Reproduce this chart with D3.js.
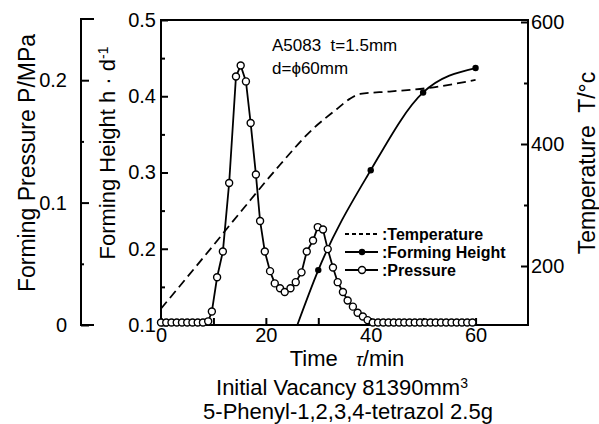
<!DOCTYPE html>
<html>
<head>
<meta charset="utf-8">
<script src="https://cdn.jsdelivr.net/npm/d3@7"></script>
<style>
    body { margin: 0; background: #fff; }
    text { font-family: "Liberation Sans", Arial, sans-serif; fill: #000; }
</style>
</head>
<body>
<div id="chart"></div>
<script>
//
// forming pressure / height / temperature vs time
//

// temperature curve (dashed)
var tempTime = [0, 8, 15.6, 22.7, 29, 33.5, 36, 38, 43.6, 51.2, 60];
var tempValue = [130, 213, 293, 366, 425, 457, 474, 482, 486, 492, 505];

// forming height (filled dots)
var heightTime = [26, 30, 40, 50, 60];
var heightValue = [0.1, 0.172, 0.303, 0.405, 0.437];

// pressure (open circles)
var pressTime = [0, 1, 2, 3, 4, 5, 6, 7, 8, 9, 9.7, 10.7, 11.8, 13.0, 14.3, 15.2, 16.2, 17.1, 18.1, 18.9,
    19.8, 20.8, 21.7, 22.7, 23.6, 24.7, 25.7, 26.8, 27.8, 29.0, 29.9, 30.9, 31.8, 32.8, 33.7, 34.7,
    35.6, 36.6, 37.5, 38.5, 39.4, 40.4, 41.4, 42.4, 43.4, 44.4, 45.4, 46.4, 47.4, 48.4, 49.4, 50.4,
    51.4, 52.4, 53.4, 54.4, 55.4, 56.4, 57.4, 58.4, 59.4];
var pressValue = [0.002, 0.002, 0.002, 0.002, 0.002, 0.002, 0.002, 0.002, 0.002, 0.003, 0.011, 0.039, 0.060, 0.116, 0.203, 0.212, 0.199, 0.165, 0.123, 0.085,
    0.060, 0.044, 0.034, 0.030, 0.027, 0.030, 0.035, 0.043, 0.060, 0.069, 0.080, 0.078, 0.062, 0.047, 0.035, 0.027,
    0.020, 0.015, 0.010, 0.007, 0.004, 0.002, 0.002, 0.002, 0.002, 0.002, 0.002, 0.002, 0.002, 0.002, 0.002, 0.002,
    0.002, 0.002, 0.002, 0.002, 0.002, 0.002, 0.002, 0.002, 0.002];

// ticks
var xTicks = [0, 20, 40, 60];
var xMinor = [10, 30, 50];
var heightTicks = [0.1, 0.2, 0.3, 0.4, 0.5];
var heightMinor = [0.15, 0.25, 0.35, 0.45];
var pressTicks = [0, 0.1, 0.2];
var pressMinor = [0.05, 0.15];
var tempTicks = [200, 400, 600];
var tempMinor = [300, 500];

var svgWidth = 599, svgHeight = 424;
var plotLeft = 161, plotRight = 528, plotTop = 20, plotBottom = 325;
var pressAxisX = 81;

var svg = d3.select("#chart")
    .append("svg")
    .attr("width", svgWidth)
    .attr("height", svgHeight);

var x = d3.scaleLinear().domain([0, 70]).range([plotLeft, plotRight]);
var yH = d3.scaleLinear().domain([0.1, 0.5]).range([plotBottom, plotTop]);
var yP = d3.scaleLinear().domain([0, 0.25]).range([plotBottom, 19]);
var yT = d3.scaleLinear().domain([100, 600]).range([327, 22]);

function styleAxis(g, fs) {
    g.select(".domain").remove();
    g.selectAll(".tick line").attr("stroke", "#000").attr("stroke-width", 2);
    g.selectAll(".tick text").style("font-size", fs).attr("fill", "#000")
        .style("font-family", '"Liberation Sans", Arial, sans-serif');
}

// frame
svg.append("rect")
    .attr("x", plotLeft).attr("y", plotTop)
    .attr("width", plotRight - plotLeft).attr("height", plotBottom - plotTop)
    .attr("fill", "none").attr("stroke", "#000").attr("stroke-width", 2);

// x axis
svg.append("g")
    .attr("transform", "translate(0," + plotBottom + ")")
    .call(d3.axisBottom(x).tickValues(xTicks).tickSizeInner(-7).tickSizeOuter(0).tickPadding(3).tickFormat(d3.format("d")))
    .call(styleAxis, "20px");
svg.append("g")
    .attr("transform", "translate(0," + plotBottom + ")")
    .call(d3.axisBottom(x).tickValues(xMinor).tickSizeInner(-7).tickSizeOuter(0).tickFormat(""))
    .call(styleAxis, "20px");

// height axis
svg.append("g")
    .attr("transform", "translate(" + plotLeft + ",0)")
    .call(d3.axisLeft(yH).tickValues(heightTicks).tickSizeInner(-7).tickSizeOuter(0).tickPadding(5).tickFormat(d3.format(".1f")))
    .call(styleAxis, "20px");
svg.append("g")
    .attr("transform", "translate(" + plotLeft + ",0)")
    .call(d3.axisLeft(yH).tickValues(heightMinor).tickSizeInner(-4).tickSizeOuter(0).tickFormat(""))
    .call(styleAxis, "20px");

// temperature axis
svg.append("g")
    .attr("transform", "translate(" + plotRight + ",0)")
    .call(d3.axisRight(yT).tickValues(tempTicks).tickSizeInner(-7).tickSizeOuter(0).tickPadding(3))
    .call(styleAxis, "20px");
svg.append("g")
    .attr("transform", "translate(" + plotRight + ",0)")
    .call(d3.axisRight(yT).tickValues(tempMinor).tickSizeInner(-4).tickSizeOuter(0).tickFormat(""))
    .call(styleAxis, "20px");

// pressure axis (separate, on the far left)
svg.append("line")
    .attr("x1", pressAxisX).attr("x2", pressAxisX)
    .attr("y1", yP(0.25)).attr("y2", yP(0))
    .attr("stroke", "#000").attr("stroke-width", 2);
svg.append("line")
    .attr("x1", pressAxisX - 1).attr("x2", pressAxisX + 13)
    .attr("y1", yP(0.25)).attr("y2", yP(0.25))
    .attr("stroke", "#000").attr("stroke-width", 2);
svg.append("line")
    .attr("x1", pressAxisX - 1).attr("x2", pressAxisX + 13)
    .attr("y1", yP(0)).attr("y2", yP(0))
    .attr("stroke", "#000").attr("stroke-width", 2);
svg.append("g")
    .attr("transform", "translate(" + pressAxisX + ",0)")
    .call(d3.axisLeft(yP).tickValues(pressTicks).tickSizeInner(-8).tickSizeOuter(0).tickPadding(14)
        .tickFormat(function (d) { return d == 0 ? "0" : d.toFixed(1); }))
    .call(styleAxis, "20px");
svg.append("g")
    .attr("transform", "translate(" + pressAxisX + ",0)")
    .call(d3.axisLeft(yP).tickValues(pressMinor).tickSizeInner(-3).tickSizeOuter(0).tickFormat(""))
    .call(styleAxis, "20px");

// temperature line
var tempData = tempTime.map(function (t, i) { return { X: t, Y: tempValue[i] }; });
svg.append("path")
    .datum(tempData)
    .attr("fill", "none")
    .attr("stroke", "#000")
    .attr("stroke-width", 1.8)
    .attr("stroke-dasharray", "9,5")
    .attr("d", d3.line().curve(d3.curveMonotoneX)
        .x(function (d) { return x(d.X); })
        .y(function (d) { return yT(d.Y); }));

// forming height
var heightData = heightTime.map(function (t, i) { return { X: t, Y: heightValue[i] }; });
svg.append("path")
    .datum(heightData)
    .attr("fill", "none")
    .attr("stroke", "#000")
    .attr("stroke-width", 1.8)
    .attr("d", d3.line().curve(d3.curveMonotoneX)
        .x(function (d) { return x(d.X); })
        .y(function (d) { return yH(d.Y); }));
svg.selectAll("heightDots")
    .data(heightData.filter(function (d) { return d.Y > 0.1; }))
    .enter()
    .append("circle")
    .attr("cx", function (d) { return x(d.X); })
    .attr("cy", function (d) { return yH(d.Y); })
    .attr("r", 3.2)
    .attr("fill", "#000");

// pressure
var pressData = pressTime.map(function (t, i) { return { X: t, Y: pressValue[i] }; });
svg.append("path")
    .datum(pressData)
    .attr("fill", "none")
    .attr("stroke", "#000")
    .attr("stroke-width", 1.8)
    .attr("d", d3.line()
        .x(function (d) { return x(d.X); })
        .y(function (d) { return yP(d.Y); }));
svg.selectAll("pressDots")
    .data(pressData)
    .enter()
    .append("circle")
    .attr("cx", function (d) { return x(d.X); })
    .attr("cy", function (d) { return yP(d.Y); })
    .attr("r", 3.5)
    .attr("fill", "#fff")
    .attr("stroke", "#000")
    .attr("stroke-width", 1.4);

// annotation
svg.append("text").attr("x", 272).attr("y", 51)
    .style("font-size", "17px").style("white-space", "pre")
    .text("A5083  t=1.5mm");
svg.append("text").attr("x", 272).attr("y", 74)
    .style("font-size", "17px").style("white-space", "pre")
    .text("d=\u03d560mm");

// legend
var legendRows = [
    { 'label': ":Temperature", 'type': "dash" },
    { 'label': ":Forming Height", 'type': "dot" },
    { 'label': ":Pressure", 'type': "circle" }
];
var legend = svg.selectAll(".legend")
    .data(legendRows)
    .enter().append("g")
    .attr("transform", function (d, idx) { return "translate(345," + (234 + idx * 18) + ")"; });
legend.append("line")
    .attr("x1", 0).attr("x2", 33).attr("y1", 0).attr("y2", 0)
    .attr("stroke", "#000").attr("stroke-width", 1.8)
    .attr("stroke-dasharray", function (d) { return d.type == "dash" ? "4,3" : null; });
legend.filter(function (d) { return d.type == "dot"; })
    .append("circle").attr("cx", 17).attr("cy", 0).attr("r", 3.2).attr("fill", "#000");
legend.filter(function (d) { return d.type == "circle"; })
    .append("circle").attr("cx", 17).attr("cy", 0).attr("r", 3.5)
    .attr("fill", "#fff").attr("stroke", "#000").attr("stroke-width", 1.4);
legend.append("text")
    .attr("x", 37).attr("dy", "0.36em")
    .style("font-size", "16px").style("font-weight", "bold")
    .text(function (d) { return d.label; });

// axis titles
svg.append("text")
    .attr("transform", "translate(27,163) rotate(-90)")
    .attr("dy", "0.35em").style("text-anchor", "middle").style("font-size", "23px")
    .text("Forming Pressure P/MPa");

var hLabel = svg.append("text")
    .attr("transform", "translate(107,153) rotate(-90)")
    .attr("dy", "0.35em").style("text-anchor", "middle").style("font-size", "22px");
hLabel.append("tspan").text("Forming Height h \u00b7 d");
hLabel.append("tspan").attr("dy", "-0.45em").style("font-size", "14px").text("-1");

svg.append("text")
    .attr("transform", "translate(587,163) rotate(-90)")
    .attr("dy", "0.35em").style("text-anchor", "middle").style("font-size", "23px").style("white-space", "pre")
    .text("Temperature  T/\u00b0c");

var tLabel = svg.append("text")
    .attr("x", 347).attr("y", 366).style("text-anchor", "middle").style("font-size", "22px").style("white-space", "pre");
tLabel.append("tspan").text("Time   ");
tLabel.append("tspan").style("font-style", "italic").style("font-size", "18px").text("\u03c4");
tLabel.append("tspan").text("/min");

var vLabel = svg.append("text")
    .attr("x", 342).attr("y", 395).style("text-anchor", "middle").style("font-size", "22px");
vLabel.append("tspan").text("Initial Vacancy 81390mm");
vLabel.append("tspan").attr("dy", "-0.5em").style("font-size", "14px").text("3");

svg.append("text")
    .attr("x", 348).attr("y", 419).style("text-anchor", "middle").style("font-size", "22px")
    .text("5-Phenyl-1,2,3,4-tetrazol 2.5g");
</script>
</body>
</html>
